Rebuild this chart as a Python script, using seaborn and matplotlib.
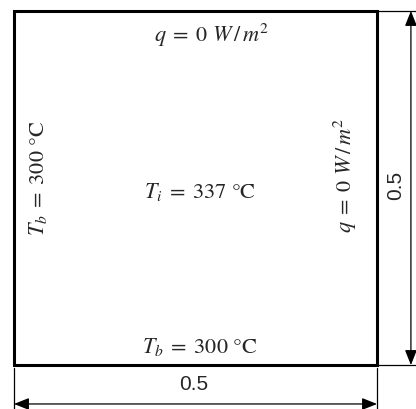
import matplotlib
matplotlib.use('Agg')
import matplotlib.pyplot as plt
import seaborn as sns

# domain size and boundary conditions
width = 0.5
height = 0.5
dim_labels = ['0.5', '0.5']
bc_top = r'$q\;=\;0\ W\,/\,m^2$'
bc_right = r'$q\;=\;0\ W\,/\,m^2$'
bc_left = r'$T_b\;=\;300\ \degree\mathrm{C}$'
bc_bottom = r'$T_b\;=\;300\ \degree\mathrm{C}$'
init_label = r'$T_i\;=\;337\ \degree\mathrm{C}$'

sns.set_style('white')
plt.rcParams['mathtext.fontset'] = 'stix'
plt.rcParams['font.family'] = ['Liberation Sans', 'DejaVu Sans']

fig = plt.figure(figsize=(4.16, 4.09), dpi=100)
ax = fig.add_axes([0, 0, 1, 1])
ax.set_xlim(-0.0193, 0.5537)
ax.set_ylim(-0.0621, 0.5155)
ax.axis('off')

# the domain
ax.plot([0, width, width, 0, 0], [0, 0, height, height, 0], color='black', lw=2.2,
        solid_joinstyle='miter')

# extension lines
ax.plot([width, 0.5537], [height, height], color='black', lw=0.9)
ax.plot([width, 0.5537], [0, 0], color='black', lw=0.9)
ax.plot([0, 0], [-0.004, -0.0621], color='black', lw=0.9)
ax.plot([width, width], [-0.004, -0.0621], color='black', lw=0.9)

# dimension arrows
arr = dict(arrowstyle='<|-|>,head_length=0.7,head_width=0.28', color='black', lw=0.9,
           mutation_scale=13, shrinkA=0, shrinkB=0)
ax.annotate('', xy=(0, -0.055), xytext=(width, -0.055), arrowprops=arr)
ax.annotate('', xy=(0.5467, 0), xytext=(0.5467, height), arrowprops=arr)
ax.text(width / 2 - 0.002, -0.028, dim_labels[0], ha='center', va='center', fontsize=15)
ax.text(0.526, height / 2 + 0.003, dim_labels[1], ha='center', va='center', fontsize=15,
        rotation=90)

# boundary labels
fs = 16
ax.text(0.2727, 0.466, bc_top, ha='center', va='center', fontsize=fs)
ax.text(0.256, 0.244, init_label, ha='center', va='center', fontsize=fs)
ax.text(0.256, 0.0254, bc_bottom, ha='center', va='center', fontsize=fs)
ax.text(0.033, 0.264, bc_left, ha='center', va='center', fontsize=fs, rotation=90)
ax.text(0.457, 0.268, bc_right, ha='center', va='center', fontsize=fs, rotation=90)

fig.savefig('out.png', dpi=100)
